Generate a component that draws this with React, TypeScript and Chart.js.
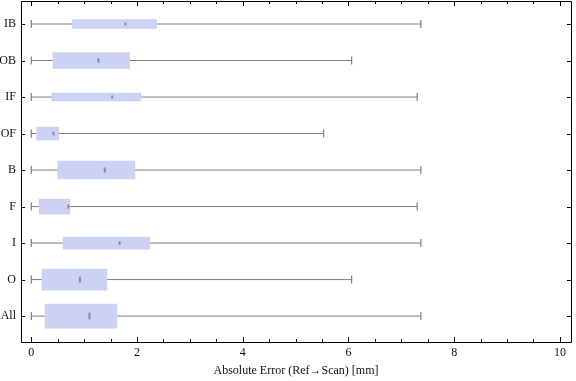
import { useEffect, useRef } from 'react';
import { Chart, registerables } from 'chart.js';

Chart.register(...registerables);

const categories = ['IB', 'OB', 'IF', 'OF', 'B', 'F', 'I', 'O', 'All'];
const whiskerMin = [0, 0, 0, 0, 0, 0, 0, 0, 0];
const q1 = [0.78, 0.41, 0.39, 0.1, 0.5, 0.15, 0.6, 0.2, 0.26];
const median = [1.78, 1.27, 1.53, 0.42, 1.39, 0.7, 1.67, 0.92, 1.1];
const q3 = [2.37, 1.86, 2.07, 0.52, 1.96, 0.73, 2.24, 1.43, 1.62];
const whiskerMax = [7.37, 6.06, 7.3, 5.53, 7.37, 7.3, 7.37, 6.06, 7.37];
const boxWeight = [9, 16, 8, 13, 18, 15, 12, 21, 24];
const xTickValues = [0, 2, 4, 6, 8, 10];
const xTitle = 'Absolute Error (Ref\u2192Scan) [mm]';

const GRAY = '#7f7f7f';
const BOX = 'rgb(205,210,245)';
const FONT = "'Liberation Serif', 'DejaVu Serif', serif";

const framePlugin = {
  id: 'frame',
  afterDraw(chart: any) {
    const { ctx, chartArea: a, scales } = chart;
    const xs = scales.x;
    const ys = scales.y;
    ctx.save();
    ctx.strokeStyle = '#000';
    ctx.lineWidth = 1;
    ctx.beginPath();
    ctx.rect(Math.round(a.left) + 0.5, Math.round(a.top) + 0.5, Math.round(a.right - a.left), Math.round(a.bottom - a.top));
    ctx.stroke();
    ctx.beginPath();
    for (let v = 0; v <= 10.001; v += 0.5) {
      const px = Math.round(xs.getPixelForValue(v)) + 0.5;
      const major = Math.abs(v / 2 - Math.round(v / 2)) < 1e-6;
      const len = major ? 5 : 3;
      ctx.moveTo(px, a.bottom);
      ctx.lineTo(px, a.bottom - len);
      ctx.moveTo(px, a.top);
      ctx.lineTo(px, a.top + len);
    }
    categories.forEach((_, i) => {
      const py = Math.round(ys.getPixelForValue(i)) + 0.5;
      ctx.moveTo(a.left, py);
      ctx.lineTo(a.left + 4, py);
      ctx.moveTo(a.right, py);
      ctx.lineTo(a.right - 4, py);
    });
    ctx.stroke();
    ctx.restore();
  },
};

export default function App() {
  const ref = useRef<HTMLCanvasElement | null>(null);

  useEffect(() => {
    document.body.style.margin = '0';
    const canvas = ref.current;
    if (!canvas) return;

    const whiskerData: any[] = [];
    categories.forEach((_, i) => {
      whiskerData.push({ x: whiskerMin[i], y: i });
      whiskerData.push({ x: whiskerMax[i], y: i });
      whiskerData.push({ x: null, y: null });
    });
    const capData: any[] = [];
    categories.forEach((_, i) => {
      capData.push({ x: whiskerMin[i], y: i });
      capData.push({ x: whiskerMax[i], y: i });
    });
    const medianData = categories.map((_, i) => ({ x: median[i], y: i }));

    const boxSets = categories.map((_, i) => ({
      type: 'bar' as const,
      data: [{ x: [q1[i], q3[i]], y: i }],
      backgroundColor: BOX,
      borderWidth: 0,
      barThickness: boxWeight[i],
      grouped: false,
      order: 2,
    }));

    const chart = new Chart(canvas, {
      type: 'bar',
      data: {
        datasets: [
          {
            type: 'line',
            indexAxis: 'y',
            data: whiskerData,
            borderColor: GRAY,
            borderWidth: 1,
            pointRadius: 0,
            spanGaps: false,
            order: 3,
          } as any,
          ...boxSets,
          {
            type: 'line',
            indexAxis: 'y',
            data: capData,
            showLine: false,
            pointStyle: 'line',
            rotation: 90,
            pointRadius: 4,
            pointBorderColor: GRAY,
            pointBorderWidth: 1.2,
            order: 1,
          } as any,
          {
            type: 'line',
            indexAxis: 'y',
            data: medianData,
            showLine: false,
            pointStyle: 'line',
            rotation: 90,
            pointRadius: boxWeight.map((w) => Math.max(1.5, w * 0.14)),
            pointBorderColor: 'rgba(105,105,115,0.7)',
            pointBorderWidth: 2,
            order: 0,
          } as any,
        ],
      },
      options: {
        indexAxis: 'y',
        animation: false,
        responsive: false,
        maintainAspectRatio: false,
        layout: { autoPadding: false, padding: { top: 1, right: 5, left: 0, bottom: 0 } },
        plugins: { legend: { display: false }, tooltip: { enabled: false } },
        scales: {
          x: {
            type: 'linear',
            offset: false,
            min: -0.195,
            max: 10.21,
            grid: { display: false, drawTicks: false },
            border: { display: false },
            afterBuildTicks: (s: any) => {
              s.ticks = xTickValues.map((v) => ({ value: v }));
            },
            afterFit: (s: any) => {
              s.height = 39;
              s.paddingLeft = 0;
              s.paddingRight = 0;
            },
            ticks: {
              padding: 4,
              maxRotation: 0,
              autoSkip: false,
              color: '#111',
              font: { family: FONT, size: 12 },
              callback: (v: any) => String(v),
            },
            title: {
              display: true,
              text: xTitle,
              color: '#111',
              font: { family: FONT, size: 12 },
              padding: { top: 1, bottom: 3 },
            },
          },
          y: {
            type: 'linear',
            offset: false,
            reverse: true,
            min: -0.63,
            max: 8.71,
            grid: { display: false, drawTicks: false },
            border: { display: false },
            afterBuildTicks: (s: any) => {
              s.ticks = categories.map((_, i) => ({ value: i }));
            },
            afterFit: (s: any) => {
              s.width = 21;
              s.paddingTop = 0;
              s.paddingBottom = 0;
            },
            ticks: {
              padding: 5,
              autoSkip: false,
              color: '#111',
              font: { family: FONT, size: 12 },
              callback: (v: any) => categories[v] ?? '',
            },
          },
        },
      },
      plugins: [framePlugin],
    });

    return () => chart.destroy();
  }, []);

  return <canvas ref={ref} width={576} height={381} style={{ display: 'block' }} />;
}
